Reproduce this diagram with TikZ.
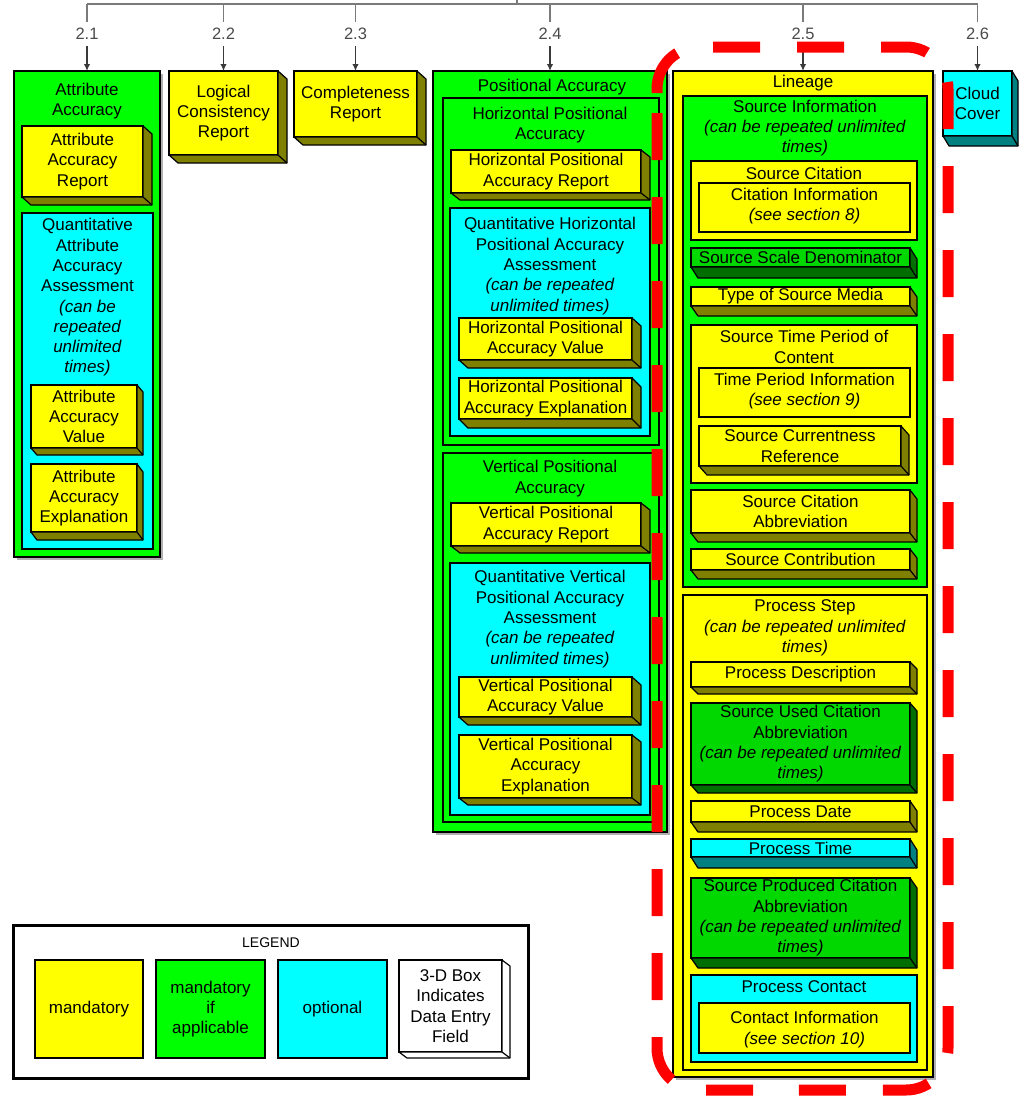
\documentclass[tikz,border=0pt]{standalone}
\usepackage{fontspec}
\setmainfont{Liberation Sans}
\usetikzlibrary{arrows.meta}

\definecolor{fillY}{HTML}{FFFF00}\definecolor{depY}{HTML}{808000}
\definecolor{fillg}{HTML}{00FF00}\definecolor{depg}{HTML}{008000}
\definecolor{fillG}{HTML}{00D800}\definecolor{depG}{HTML}{006E00}
\definecolor{fillC}{HTML}{00FFFF}\definecolor{depC}{HTML}{008080}
\definecolor{fillW}{HTML}{FFFFFF}\definecolor{depW}{HTML}{FFFFFF}
\definecolor{topgray}{HTML}{7A7A7A}
\definecolor{arrgray}{HTML}{3A3A3A}
\definecolor{lblgray}{HTML}{4A4A4A}
\definecolor{shadowgray}{HTML}{B0B0B0}

\newcommand\fsz{\fontsize{17}{20.3}\selectfont}

\tikzset{
  boxbase/.style={draw=black, line width=1.3, inner sep=0pt, outer sep=0pt, align=center, font=\fsz},
  txt/.style={inner sep=0pt, align=center, font=\fsz},
  numlbl/.style={inner xsep=2pt, inner ysep=6pt, text=lblgray, font=\fontsize{16.5}{18}\selectfont},
  conn/.style={draw=topgray, line width=1.8},
  arr/.style={draw=arrgray, line width=1.6, -{Latex[length=7pt,width=6.5pt]}},
  reddash/.style={draw=red, line width=11pt, dash pattern=on 47pt off 37pt, rounded corners=42pt},
  shadowline/.style={draw=shadowgray, line width=1.5}
}

% flat box: name, x0, y0, x1, y1, colour, text
\newcommand\flatbx[7]{%
  \node[boxbase, fill=fill#6, minimum width={#4-#2}, minimum height={#5-#3}] (#1) at ({(#2+#4)/2},{(#3+#5)/2}) {#7};}

% 3-D box: name, x0, y0, x1, y1, dx, dy, colour, text
\newcommand\tdbx[9]{%
  \node[boxbase, fill=fill#8, minimum width={#4-#2}, minimum height={#5-#3}] (#1) at ({(#2+#4)/2},{(#3+#5)/2}) {#9};
  \filldraw[fill=dep#8, draw=black, line width=1.2, line join=round]
    (#1.south west) -- ([shift={(#6,#7)}]#1.south west) -- ([shift={(#6,#7)}]#1.south east)
    -- ([shift={(#6,#7)}]#1.north east) -- (#1.north east) -- (#1.south east) -- cycle;
  \draw[line width=1.2] (#1.south east) -- ([shift={(#6,#7)}]#1.south east);}

% soft shadow line along right and bottom of a container
\newcommand\shadowof[1]{%
  \draw[shadowline] ([shift={(2,3)}]#1.north east) -- ([shift={(2,2)}]#1.south east) -- ([shift={(3,2)}]#1.south west);}

\begin{document}
\begin{tikzpicture}[x=1pt,y=-1pt]
\useasboundingbox (0,0) rectangle (1025,1096);

% ---------- 2.1 Attribute Accuracy ----------
\flatbx{aa}{14}{71}{160}{557}{g}{}
\shadowof{aa}
\node[txt] (aat) at (87,101) {Attribute\\Accuracy};
\tdbx{aar}{22}{126}{143}{197}{9}{8}{Y}{Attribute\\Accuracy\\Report}
\flatbx{qaa}{22}{213}{153}{549}{C}{}
\node[txt] (qaat) at (87.5,297.5) {Quantitative\\Attribute\\Accuracy\\Assessment\\\textit{(can be}\\\textit{repeated}\\\textit{unlimited}\\\textit{times)}};
\tdbx{aav}{31}{385}{137}{448}{6}{7}{Y}{Attribute\\Accuracy\\Value}
\tdbx{aae}{31}{464}{137}{532}{6}{8}{Y}{Attribute\\Accuracy\\Explanation}

% ---------- 2.2 / 2.3 ----------
\tdbx{lcr}{169}{71}{278}{155}{9}{8}{Y}{Logical\\Consistency\\Report}
\tdbx{cr}{294}{71}{417}{137}{9}{8}{Y}{Completeness\\Report}

% ---------- 2.4 Positional Accuracy ----------
\flatbx{pa}{433}{71}{667}{832}{g}{}
\shadowof{pa}
\node[txt] (pat) at (552,87) {Positional Accuracy};
\flatbx{hpa}{443}{98}{659}{445}{g}{}
\node[txt] (hpat) at (550,125) {Horizontal Positional\\Accuracy};
\tdbx{hpar}{451}{150}{641}{193}{9}{7}{Y}{Horizontal Positional\\Accuracy Report}
\flatbx{qhpa}{450}{208}{650}{436}{C}{}
\node[txt] (qhpat) at (550,266) {Quantitative Horizontal\\Positional Accuracy\\Assessment\\\textit{(can be repeated}\\\textit{unlimited times)}};
\tdbx{hpav}{459}{318}{632}{360}{9}{8}{Y}{Horizontal Positional\\Accuracy Value}
\tdbx{hpae}{459}{378}{632}{419}{9}{9}{Y}{Horizontal Positional\\Accuracy Explanation}
\flatbx{vpa}{443}{453}{659}{822}{g}{}
\node[txt] (vpat) at (550,478.5) {Vertical Positional\\Accuracy};
\tdbx{vpar}{451}{503}{641}{546}{9}{7}{Y}{Vertical Positional\\Accuracy Report}
\flatbx{qvpa}{450}{563}{650}{815}{C}{}
\node[txt] (qvpat) at (550,619) {Quantitative Vertical\\Positional Accuracy\\Assessment\\\textit{(can be repeated}\\\textit{unlimited times)}};
\tdbx{vpav}{459}{677}{632}{717}{9}{8}{Y}{Vertical Positional\\Accuracy Value}
\tdbx{vpae}{459}{735}{632}{798}{9}{7}{Y}{Vertical Positional\\Accuracy\\Explanation}

% ---------- 2.5 Lineage ----------
\flatbx{lin}{673}{71}{933}{1077}{Y}{}
\shadowof{lin}
\node[txt] (lint) at (803,83) {Lineage};
\flatbx{si}{683}{96}{927}{587}{g}{}
\node[txt] (sit) at (805,128) {Source Information\\\textit{(can be repeated unlimited}\\\textit{times)}};
\flatbx{sc}{691}{161}{917}{240}{Y}{}
\node[txt] (sct) at (804,173) {Source Citation};
\flatbx{ci}{699}{183}{910}{232}{Y}{}
\node[txt] (cit) at (804.5,206) {Citation Information\\\textit{(see section 8)}};
\tdbx{ssd}{691}{248}{910}{267}{7}{11}{G}{Source Scale Denominator}
\tdbx{tsm}{691}{287}{910}{306}{7}{10}{Y}{Type of Source Media}
\flatbx{stp}{691}{325}{917}{483}{Y}{}
\node[txt] (stpt) at (804,347) {Source Time Period of\\Content};
\flatbx{tpi}{699}{368}{910}{417}{Y}{}
\node[txt] (tpit) at (804.5,391) {Time Period Information\\\textit{(see section 9)}};
\tdbx{scr}{699}{426}{901}{466}{8}{9}{Y}{Source Currentness\\Reference}
\tdbx{sca}{691}{490}{910}{533}{7}{9}{Y}{Source Citation\\Abbreviation}
\tdbx{scn}{691}{549}{910}{570}{7}{9}{Y}{Source Contribution}
\flatbx{ps}{683}{595}{927}{1070}{Y}{}
\node[txt] (pst) at (805,628) {Process Step\\\textit{(can be repeated unlimited}\\\textit{times)}};
\tdbx{pd}{691}{662}{910}{687}{7}{7}{Y}{Process Description}
\tdbx{suca}{691}{703}{910}{785}{7}{8}{G}{Source Used Citation\\Abbreviation\\\textit{(can be repeated unlimited}\\\textit{times)}}
\tdbx{pdt}{691}{801}{910}{822}{7}{10}{Y}{Process Date}
\tdbx{ptm}{691}{839}{910}{857}{7}{11}{C}{Process Time}
\tdbx{spca}{691}{878}{910}{958}{7}{10}{G}{Source Produced Citation\\Abbreviation\\\textit{(can be repeated unlimited}\\\textit{times)}}
\flatbx{pc}{691}{975}{917}{1062}{C}{}
\node[txt] (pct) at (804,987) {Process Contact};
\flatbx{coi}{699}{1003}{910}{1053}{Y}{}
\node[txt] (coit) at (804.5,1029.5) {Contact Information\\\textit{(see section 10)}};

% ---------- 2.6 Cloud Cover ----------
\tdbx{cc}{943}{71}{1012}{136}{6}{10}{C}{Cloud\\Cover}

% ---------- top connectors ----------
\coordinate (hubtop) at (517,0);
\coordinate (hub) at (517,4);
\coordinate (c21) at (87,4);
\coordinate (c22) at (223.5,4);
\coordinate (c23) at (355.5,4);
\coordinate (c24) at (550,4);
\coordinate (c25) at (803,4);
\coordinate (c26) at (977.5,4);
\draw[conn] (hubtop) -- (hub);
\draw[conn] (c21) -- (c26);
\node[numlbl] (n21) at (87,34) {2.1};
\node[numlbl] (n22) at (223.5,34) {2.2};
\node[numlbl] (n23) at (355.5,34) {2.3};
\node[numlbl] (n24) at (550,34) {2.4};
\node[numlbl] (n25) at (803,34) {2.5};
\node[numlbl] (n26) at (977.5,34) {2.6};
\foreach \i/\b in {21/aa,22/lcr,23/cr,24/pa,25/lin,26/cc}{
  \draw[conn] (c\i) -- (n\i.north);
  \draw[arr] (n\i.south) -- (\b.north);
}

% ---------- legend ----------
\node[draw=black, line width=3, fill=white, inner sep=0pt, outer sep=0pt,
      minimum width=515, minimum height=153] (leg) at (270.5,1001.5) {};
\node[txt, font=\fontsize{14}{16}\selectfont] (legt) at (271,943) {LEGEND};
\flatbx{lm}{35}{960}{143}{1058}{Y}{mandatory}
\flatbx{lma}{156}{960}{265}{1058}{g}{mandatory\\if\\applicable}
\flatbx{lo}{278}{960}{387}{1058}{C}{optional}
\tdbx{l3d}{399}{960}{502}{1052}{8}{6}{W}{3-D Box\\Indicates\\Data Entry\\Field}

% ---------- red dashed highlight (three pieces to keep the dash phase) ----------
\draw[reddash] (713,47) -- (948,47) -- (948,1090) -- (775,1090);
\draw[reddash] (657,113) -- (657,1090) -- (775,1090);
\draw[reddash, dash phase=47pt] (713,47) -- (657,47) -- (657,113);
\end{tikzpicture}
\end{document}
